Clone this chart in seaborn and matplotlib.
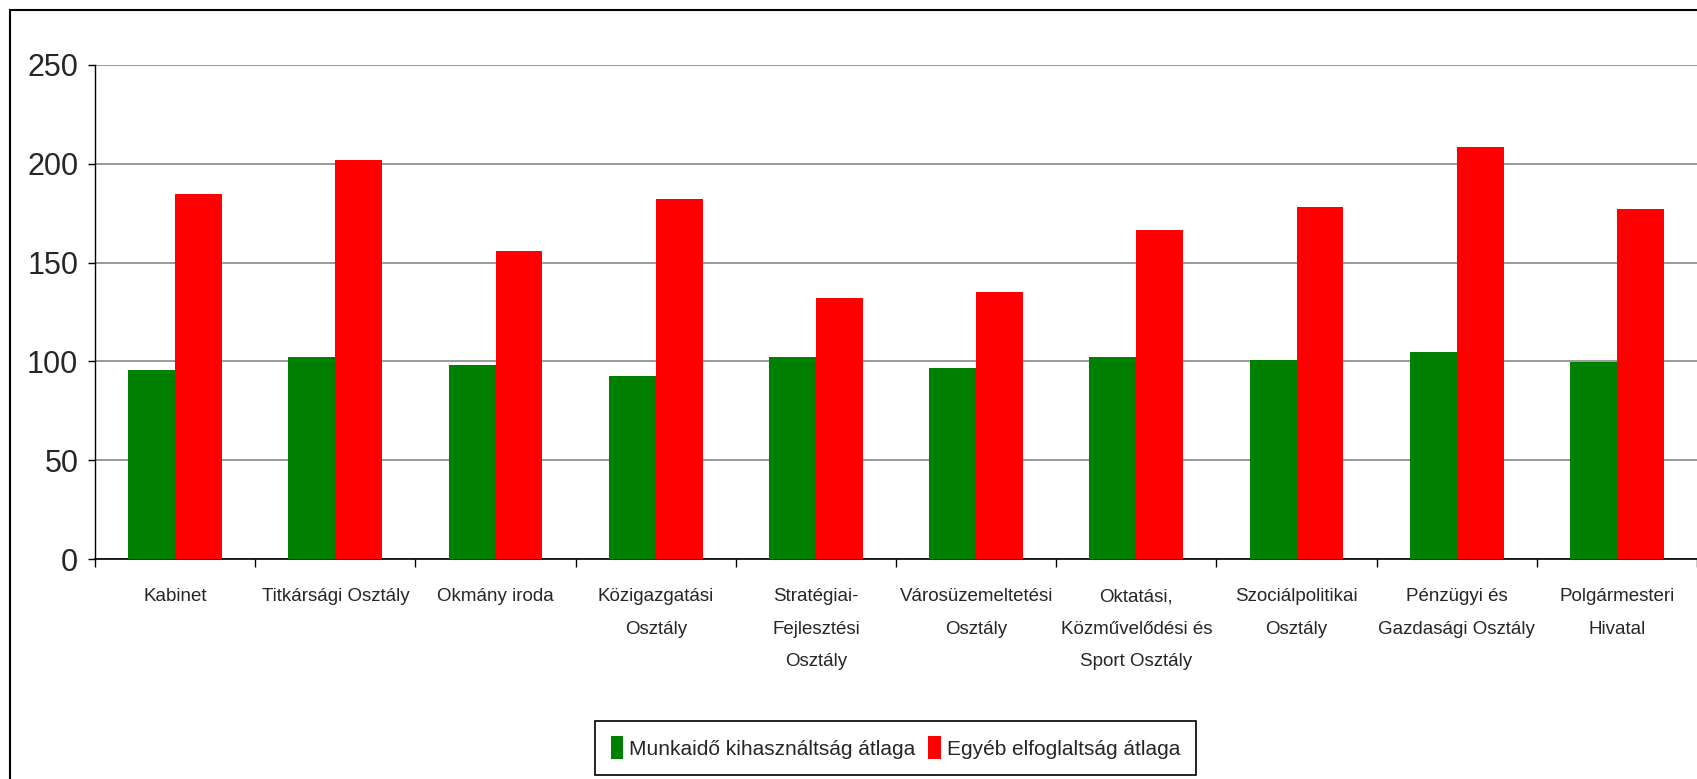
import matplotlib
matplotlib.use("Agg")
import matplotlib.pyplot as plt
import matplotlib.patches as mpatches
from matplotlib import font_manager
import pandas as pd
import seaborn as sns

# Adatok
osztalyok = [
    "Kabinet",
    "Titkársági Osztály",
    "Okmány iroda",
    "Közigazgatási\nOsztály",
    "Stratégiai-\nFejlesztési\nOsztály",
    "Városüzemeltetési\nOsztály",
    "Oktatási,\nKözművelődési és\nSport Osztály",
    "Szociálpolitikai\nOsztály",
    "Pénzügyi és\nGazdasági Osztály",
    "Polgármesteri\nHivatal",
]
munkaido = [95.5, 102, 98.2, 92.8, 102, 96.8, 102, 100.7, 104.8, 99.5]
egyeb = [184.8, 201.8, 155.9, 182.2, 132.3, 134.9, 166.4, 178.2, 208.5, 177.0]
sorozatok = ["Munkaidő kihasználtság átlaga", "Egyéb elfoglaltság átlaga"]
szinek = {sorozatok[0]: "#008000", sorozatok[1]: "#FF0000"}

df = pd.DataFrame({
    "osztaly": osztalyok * 2,
    "ertek": munkaido + egyeb,
    "sorozat": [sorozatok[0]] * len(osztalyok) + [sorozatok[1]] * len(osztalyok),
})

sns.set_style("ticks")
nevek = {f.name for f in font_manager.fontManager.ttflist}
csalad = "Liberation Sans Narrow" if "Liberation Sans Narrow" in nevek else "Liberation Sans"
plt.rcParams["font.family"] = [csalad, "DejaVu Sans"]

fig = plt.figure(figsize=(16.97, 7.79), dpi=100)
ax = fig.add_axes([0.0560, 0.2824, 0.944, 0.6342])

sns.barplot(data=df, x="osztaly", y="ertek", hue="sorozat", hue_order=sorozatok,
            palette=szinek, saturation=1, width=0.585, linewidth=0, ax=ax, zorder=3)

ax.set_ylim(0, 250)
ax.set_xlim(-0.5, len(osztalyok) - 0.5)
ax.set_yticks([0, 50, 100, 150, 200, 250])
ax.yaxis.grid(True, color="#7f7f7f", linewidth=1.1, zorder=0)
ax.set_axisbelow(True)
ax.set_xlabel("")
ax.set_ylabel("")

for s in ["top", "right"]:
    ax.spines[s].set_visible(False)
ax.spines["left"].set_color("black")
ax.spines["bottom"].set_color("black")
ax.spines["left"].set_linewidth(1.0)
ax.spines["bottom"].set_linewidth(1.2)

ax.set_xticks(range(len(osztalyok)))
ax.set_xticklabels(osztalyok, fontsize=13.5, linespacing=2.2, va="top", ha="center")
ax.set_xticks([i - 0.5 for i in range(len(osztalyok) + 1)], minor=True)
ax.tick_params(axis="x", which="major", length=0, pad=21)
ax.tick_params(axis="x", which="minor", length=6, width=1, color="black", direction="out")
ax.tick_params(axis="y", length=5, width=1, color="black", pad=7, labelsize=22)

handles, labels = ax.get_legend_handles_labels()
ax.get_legend().remove()
leg = fig.legend(handles, labels, loc="center", bbox_to_anchor=(0.5277, 0.0404), ncol=2,
                 fontsize=15, frameon=True, fancybox=False, framealpha=1,
                 handlelength=0.6, handleheight=1.3, handletextpad=0.3,
                 columnspacing=0.6, borderpad=0.75, borderaxespad=0)
leg.get_frame().set_edgecolor("black")
leg.get_frame().set_linewidth(1.2)

# kulso keret
keret = mpatches.Rectangle((10 / 1697, -0.05), 1.2, 1.05 - 10 / 779, transform=fig.transFigure,
                           fill=False, edgecolor="black", linewidth=1.5, clip_on=False)
fig.patches.append(keret)

fig.savefig("out.png", dpi=100)
